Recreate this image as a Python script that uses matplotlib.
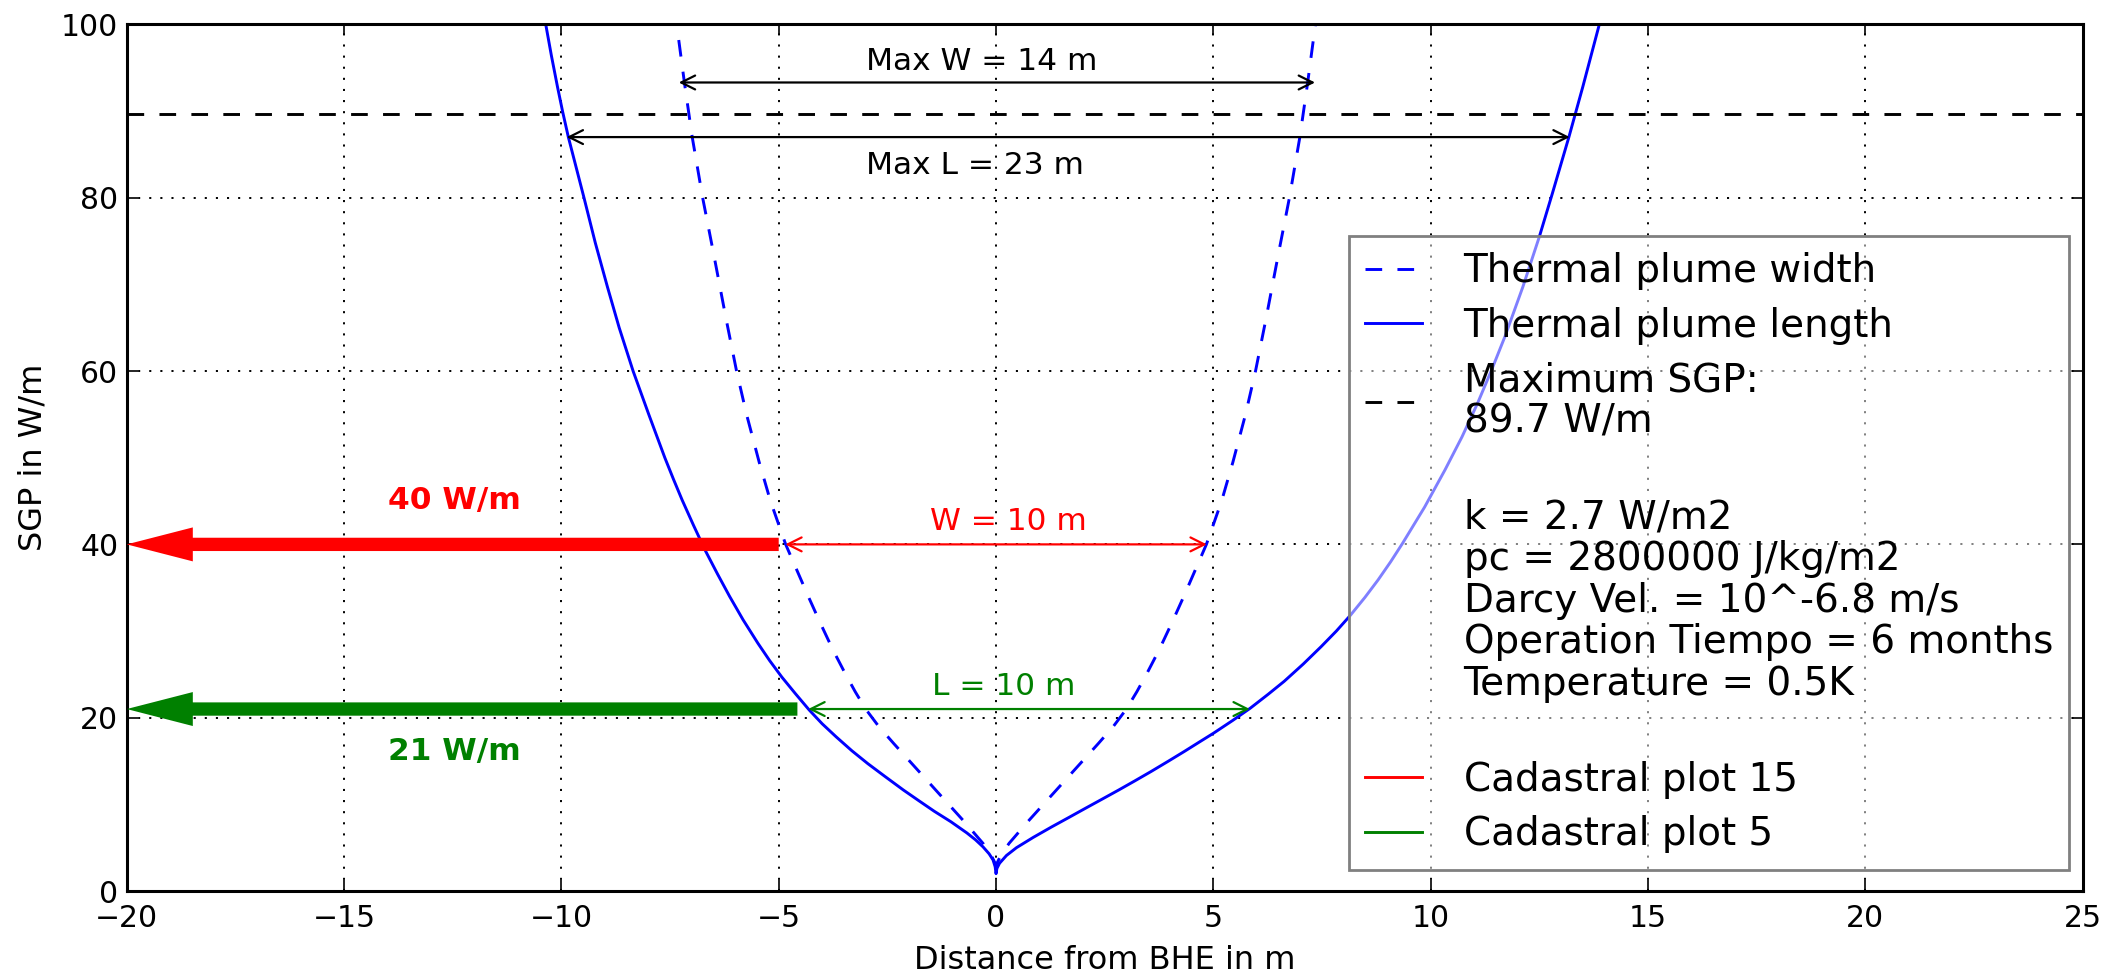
import matplotlib
matplotlib.use('Agg')
import matplotlib.pyplot as plt
from matplotlib.lines import Line2D

plt.rcParams['lines.scale_dashes'] = False
plt.rcParams['font.family'] = ['DejaVu Sans']

# thermal plume length (solid) - SGP [W/m] and distance from BHE [m]
len_left_sgp = [2.0, 2.8, 3.6, 4.3, 5.1, 5.9, 6.7, 8.0, 9.2, 10.4, 11.65, 13.2, 14.7, 16.2,
                17.8, 19.3, 20.9, 22.8, 24.7, 26.6, 28.6, 31.3, 34.0, 36.6, 39.3, 42.2,
                45.1, 47.5, 50.0, 55.0, 60.0, 65.0, 69.7, 74.8, 80.0, 83.5, 87.0, 89.9,
                92.8, 96.4, 100.0]
len_left_x = [0.0, -0.02, -0.07, -0.16, -0.30, -0.47, -0.67, -1.04, -1.42, -1.77, -2.13,
              -2.55, -2.95, -3.32, -3.68, -4.00, -4.30, -4.62, -4.93, -5.21, -5.48, -5.82,
              -6.13, -6.41, -6.69, -6.96, -7.22, -7.42, -7.62, -7.99, -8.35, -8.67, -8.94,
              -9.22, -9.48, -9.66, -9.84, -9.97, -10.09, -10.23, -10.36]
len_right_sgp = [2.0, 2.6, 3.2, 4.1, 5.0, 6.2, 7.4, 8.5, 9.5, 10.6, 11.65, 12.7, 13.8, 15.0,
                 16.1, 17.2, 18.2, 19.7, 21.1, 22.7, 24.2, 26.2, 28.2, 30.0, 31.8, 33.9,
                 35.9, 38.0, 40.1, 44.3, 48.6, 52.4, 56.3, 60.1, 64.0, 69.7, 75.5, 80.5,
                 87.0, 92.8, 100.0]
len_right_x = [0.0, 0.02, 0.08, 0.24, 0.47, 0.86, 1.28, 1.68, 2.04, 2.44, 2.82, 3.19, 3.57,
               3.97, 4.33, 4.68, 5.00, 5.45, 5.85, 6.26, 6.63, 7.07, 7.48, 7.83, 8.15, 8.49,
               8.79, 9.08, 9.35, 9.86, 10.33, 10.72, 11.08, 11.40, 11.71, 12.12, 12.50,
               12.80, 13.18, 13.50, 13.88]

# thermal plume width (dashed), half width on each side; left branch stops at 98.2 W/m
wid_sgp = [3.0, 4.0, 5.5, 8.0, 11.0, 14.0, 17.0, 19.0, 21.0, 23.0, 25.0, 27.8, 31.0, 34.0,
           37.0, 40.0, 45.0, 49.5, 55.0, 60.0, 66.0, 73.6, 80.0, 87.0, 93.3, 98.2, 100.0]
wid_half = [0.0, 0.10, 0.30, 0.73, 1.27, 1.81, 2.35, 2.70, 3.00, 3.24, 3.46, 3.75, 4.05, 4.32,
            4.58, 4.84, 5.19, 5.45, 5.74, 5.97, 6.21, 6.50, 6.75, 6.99, 7.17, 7.30, 7.35]

max_sgp = 89.7

# cadastral plots: SGP and plume extents at that SGP
plot15_sgp, plot15_w = 40, (-4.85, 4.85)
plot5_sgp, plot5_l = 21, (-4.32, 5.84)
plot15_tail, plot5_tail = -5.0, -4.57

# max extents
maxw_sgp, maxw_x = 93.3, (-7.3, 7.34)
maxl_sgp, maxl_x = 87.0, (-9.88, 13.2)

legend_info = ("\nk = 2.7 W/m2\npc = 2800000 J/kg/m2\nDarcy Vel. = 10^-6.8 m/s\n"
               "Operation Tiempo = 6 months\nTemperature = 0.5K\n")

dash = (0, (12, 11))

fig = plt.figure(figsize=(21.09, 9.77), dpi=100)
ax = fig.add_axes([0.0601, 0.088, 0.9274, 0.887])

ax.grid(True, color='k', linestyle=(0, (1.5, 6.5)), linewidth=1.4)
ax.set_axisbelow(True)

wx = [-v for v in wid_half[:-1]][::-1] + wid_half
wy = wid_sgp[:-1][::-1] + wid_sgp
lx = len_left_x[::-1] + len_right_x
ly = len_left_sgp[::-1] + len_right_sgp
l1, = ax.plot(wx, wy, color='b', linestyle=dash, lw=2.1, label='Thermal plume width')
l2, = ax.plot(lx, ly, color='b', lw=2.1, label='Thermal plume length')
l3 = ax.axhline(max_sgp, color='k', linestyle=dash, lw=2.1, label='Maximum SGP:\n89.7 W/m')


# thin dimension arrows
def dim_arrow(x0, x1, y, color):
    ax.annotate('', xy=(x1, y), xytext=(x0, y),
                arrowprops=dict(arrowstyle='<->', color=color, lw=1.6,
                                mutation_scale=25, shrinkA=0, shrinkB=0))


dim_arrow(maxw_x[0], maxw_x[1], maxw_sgp, 'k')
dim_arrow(maxl_x[0], maxl_x[1], maxl_sgp, 'k')
dim_arrow(plot15_w[0], plot15_w[1], plot15_sgp, 'r')
dim_arrow(plot5_l[0], plot5_l[1], plot5_sgp, 'g')

ax.text(-3.0, 95.7, 'Max W = 14 m', fontsize=22.5, va='center', ha='left')
ax.text(-3.0, 83.7, 'Max L = 23 m', fontsize=22.5, va='center', ha='left')
ax.text(-1.53, 42.65, 'W = 10 m', fontsize=22.5, color='r', va='center', ha='left')
ax.text(-1.48, 23.6, 'L = 10 m', fontsize=22.5, color='g', va='center', ha='left')

# thick arrows pointing to the SGP axis
ax.arrow(plot15_tail, plot15_sgp, -20 - plot15_tail, 0, width=1.535, head_width=3.92,
         head_length=1.52, length_includes_head=True, fc='r', ec='r', lw=0, zorder=4)
ax.arrow(plot5_tail, plot5_sgp, -20 - plot5_tail, 0, width=1.535, head_width=3.92,
         head_length=1.52, length_includes_head=True, fc='g', ec='g', lw=0, zorder=4)
ax.text(-14.0, 45.1, '40 W/m', fontsize=22.5, color='r', weight='bold', va='center', ha='left')
ax.text(-14.0, 16.1, '21 W/m', fontsize=22.5, color='g', weight='bold', va='center', ha='left')

ax.set_xlim(-20, 25)
ax.set_ylim(0, 100)
ax.set_xticks(range(-20, 26, 5))
ax.set_yticks(range(0, 101, 20))
ax.tick_params(direction='in', top=True, right=True, length=8, width=1.2,
               labelsize=21.5, colors='k')
ax.tick_params(axis='x', pad=9)
ax.tick_params(axis='y', pad=6)
for s in ax.spines.values():
    s.set_linewidth(2.2)

ax.set_xlabel('Distance from BHE in m', fontsize=23)
ax.xaxis.label.set_va('baseline')
ax.xaxis.set_label_coords(0.5, -0.090)
ax.set_ylabel('SGP in W/m', fontsize=23)
ax.yaxis.set_label_coords(-0.040, 0.5)

handles = [l1, l2, l3,
           Line2D([], [], color='none'),
           Line2D([], [], color='r', lw=2.1),
           Line2D([], [], color='g', lw=2.1)]
labels = ['Thermal plume width', 'Thermal plume length', 'Maximum SGP:\n89.7 W/m',
          legend_info, 'Cadastral plot 15', 'Cadastral plot 5']
leg = ax.legend(handles, labels, loc='upper left', bbox_to_anchor=(0.6248, 0.7558),
                borderaxespad=0, fontsize=28, handlelength=1.45, handletextpad=1.08,
                borderpad=0.42, labelspacing=0.42, fancybox=False)
frame = leg.get_frame()
frame.set_alpha(None)
frame.set_facecolor((1, 1, 1, 0.5))
frame.set_edgecolor((0.5, 0.5, 0.5, 1))
frame.set_linewidth(2.0)
for t in leg.get_texts():
    t.set_linespacing(1.12)

fig.savefig('out.png', dpi=100)
